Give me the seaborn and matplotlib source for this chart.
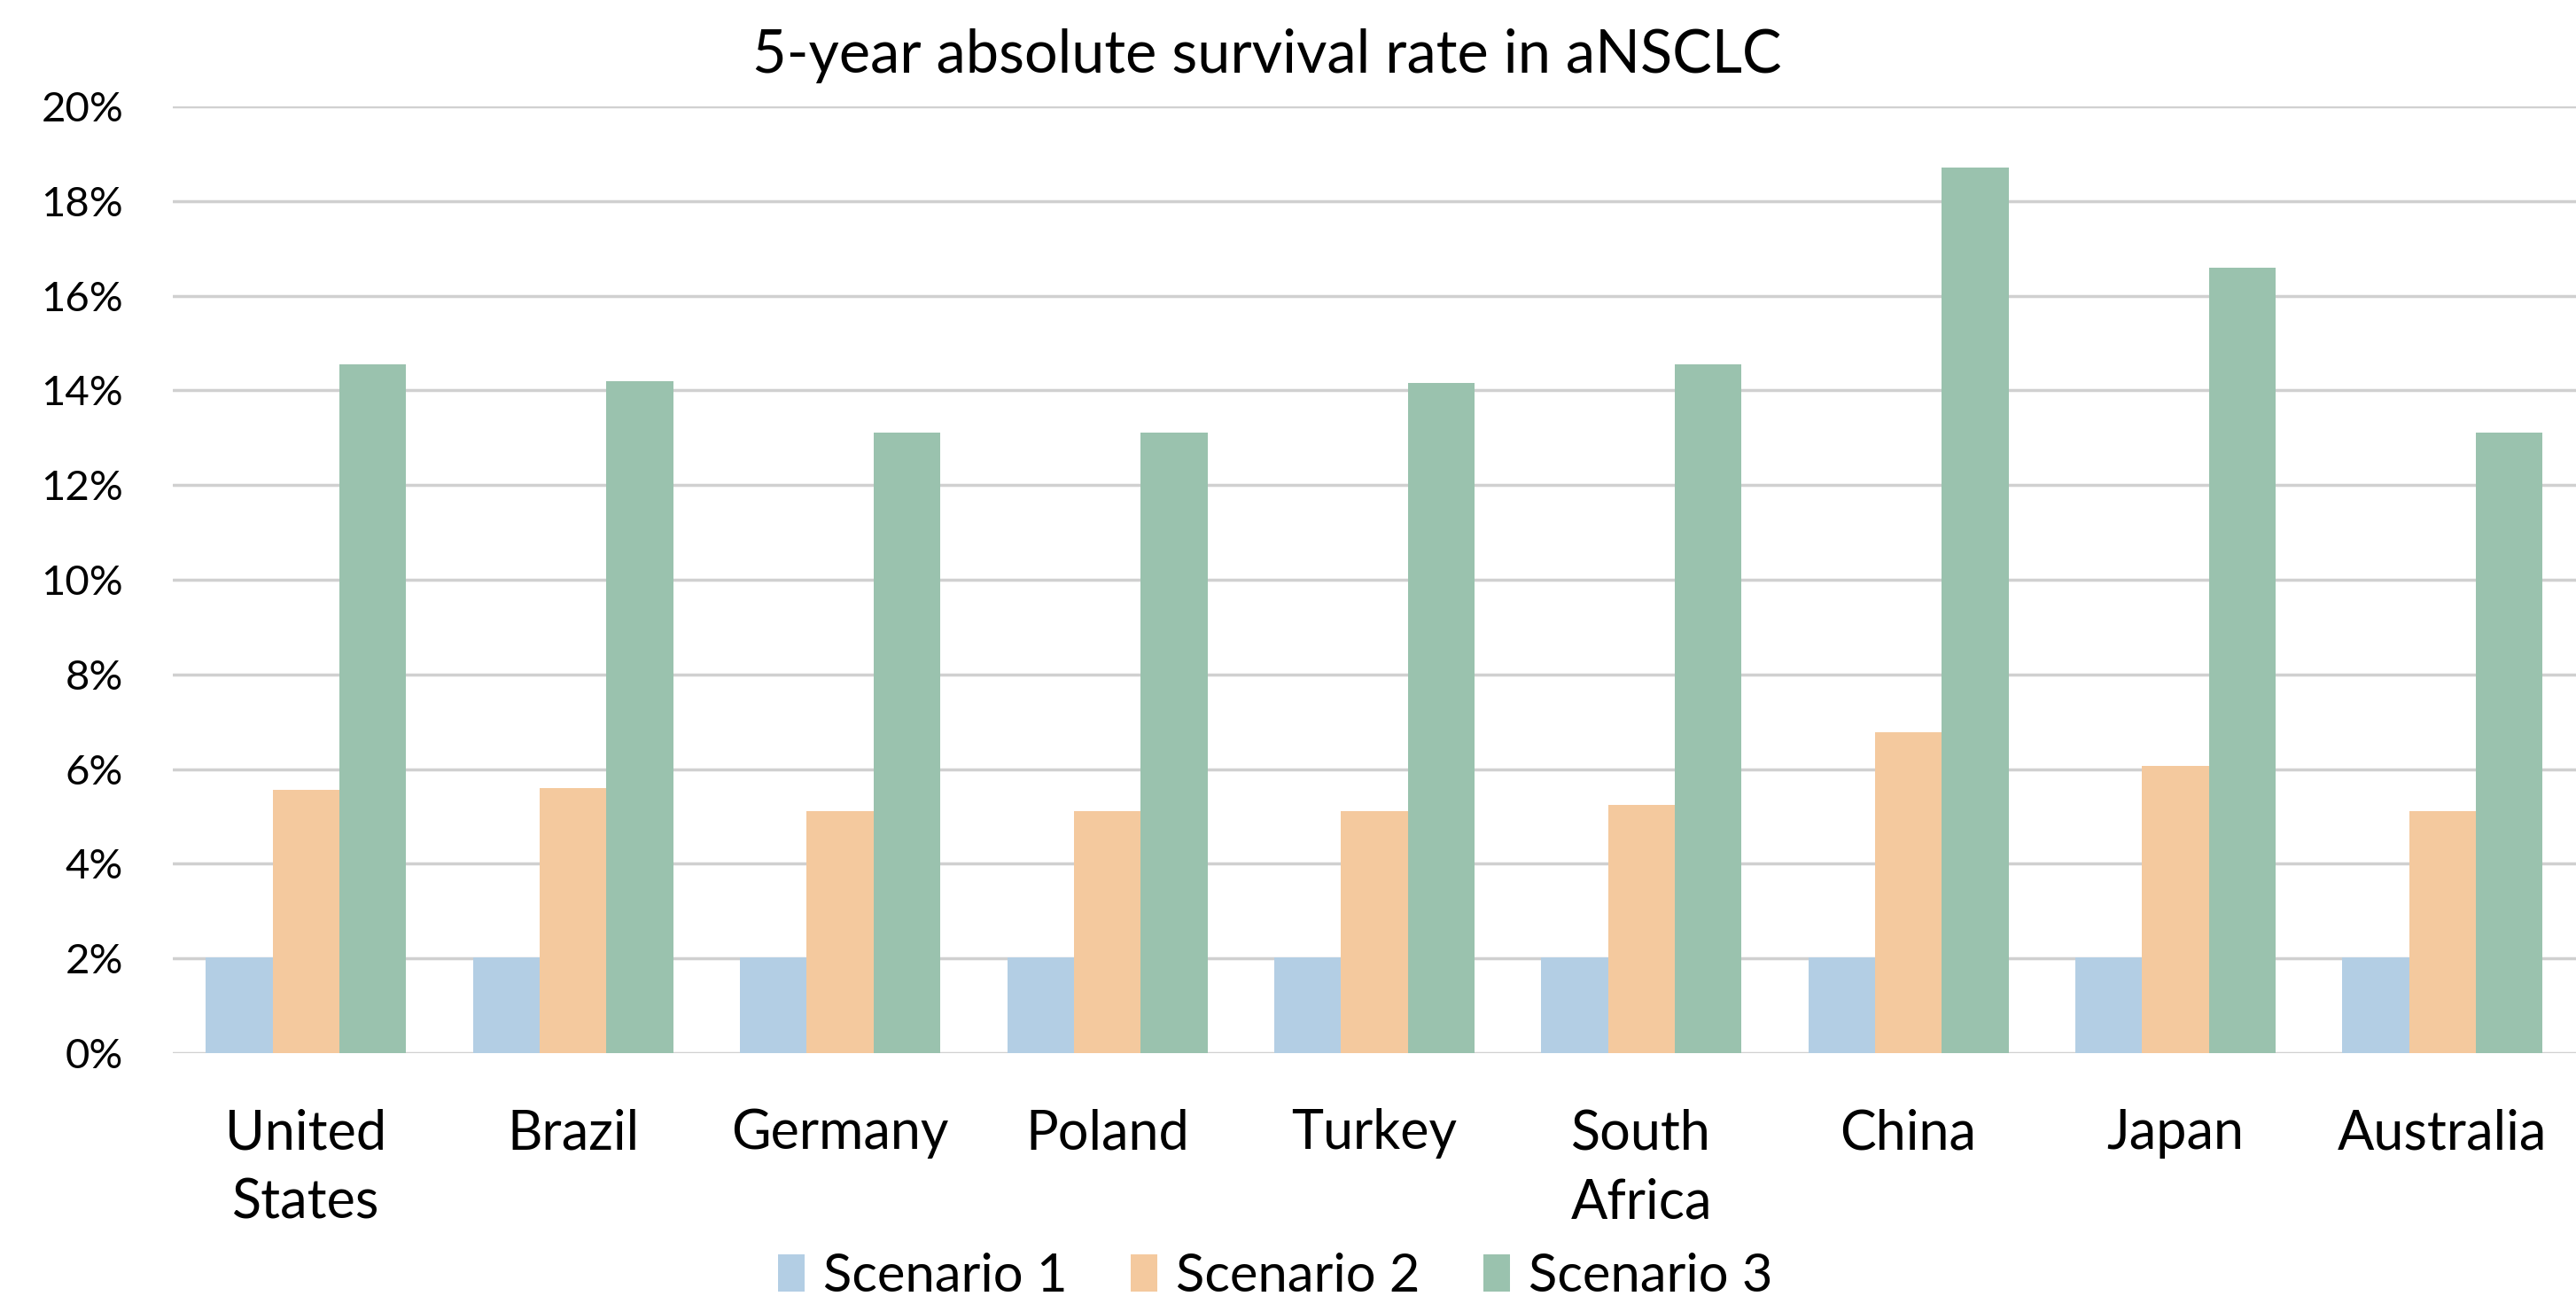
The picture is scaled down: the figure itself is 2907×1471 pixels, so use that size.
import pandas as pd
import matplotlib
matplotlib.use("Agg")
import matplotlib.pyplot as plt
import seaborn as sns

countries = ["United\nStates", "Brazil", "Germany", "Poland", "Turkey",
             "South\nAfrica", "China", "Japan", "Australia"]
scenarios = ["Scenario 1", "Scenario 2", "Scenario 3"]

scenario1 = [2.03, 2.03, 2.03, 2.03, 2.03, 2.03, 2.03, 2.03, 2.03]
scenario2 = [5.57, 5.59, 5.11, 5.11, 5.11, 5.25, 6.78, 6.07, 5.11]
scenario3 = [14.56, 14.20, 13.11, 13.11, 14.15, 14.56, 18.71, 16.60, 13.11]

colors = ["#B3CEE4", "#F4C99E", "#9AC2AE"]

rows = []
for name, vals in zip(scenarios, [scenario1, scenario2, scenario3]):
    for c, v in zip(countries, vals):
        rows.append({"country": c, "scenario": name, "value": v})
df = pd.DataFrame(rows)

sns.set_style("white")
plt.rcParams['font.family'] = ['Lato', 'DejaVu Sans']
plt.rcParams['text.color'] = 'black'
plt.rcParams['xtick.color'] = 'black'
plt.rcParams['ytick.color'] = 'black'

fig = plt.figure(figsize=(29.07, 14.71), dpi=100)
ax = fig.add_axes([0.067, 0.1924, 0.933, 0.726])

sns.barplot(data=df, x="country", y="value", hue="scenario",
            palette=colors, width=0.75, gap=0, saturation=1,
            edgecolor="none", linewidth=0, ax=ax, zorder=3)

ax.set_ylim(0, 20)
ax.set_xlim(-0.5, 8.5)
ax.set_yticks(range(0, 21, 2))
ax.set_yticklabels([f"{t}%" for t in range(0, 21, 2)], fontsize=34)
ax.tick_params(axis="x", labelsize=44, length=0, pad=45)
ax.tick_params(axis="y", length=0, pad=40)
for lbl in ax.get_xticklabels():
    lbl.set_linespacing(1.45)
ax.yaxis.grid(True, color="#D0D0D0", linewidth=2.5, zorder=0)
ax.set_axisbelow(True)
for s in ax.spines.values():
    s.set_visible(False)
ax.set_xlabel("")
ax.set_ylabel("")

fig.text(0.492, 0.957, "5-year absolute survival rate in aNSCLC",
         ha="center", va="center", fontsize=48)

ax.get_legend().remove()
handles, labels = ax.get_legend_handles_labels()
fig.legend(handles, labels, loc="center", bbox_to_anchor=(0.495, 0.021),
           ncol=3, frameon=False, fontsize=43, handlelength=0.5,
           handleheight=0.7, handletextpad=0.35, columnspacing=1.2)

fig.savefig("out.png", dpi=100)
